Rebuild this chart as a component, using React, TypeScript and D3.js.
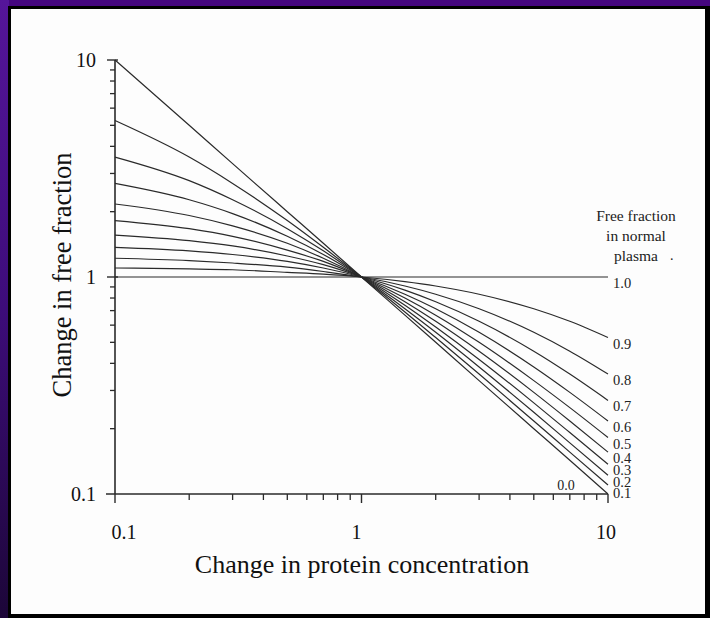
import React from "react";
import * as d3 from "d3";

// Change in protein concentration (x) sample points
const proteinChange: number[] = [0.1, 0.2, 0.3, 0.5, 0.7, 1, 1.5, 2, 3, 5, 7, 10];

// Free fraction in normal plasma (series keys)
const freeFractions: string[] = ["0.0", "0.1", "0.2", "0.3", "0.4", "0.5", "0.6", "0.7", "0.8", "0.9", "1.0"];

// Change in free fraction, one array per series
const ff00: number[] = [10, 5, 3.33, 2, 1.43, 1, 0.667, 0.5, 0.333, 0.2, 0.143, 0.1];
const ff01: number[] = [5.26, 3.57, 2.7, 1.82, 1.37, 1, 0.69, 0.526, 0.357, 0.217, 0.156, 0.11];
const ff02: number[] = [3.57, 2.78, 2.27, 1.67, 1.32, 1, 0.714, 0.556, 0.385, 0.238, 0.172, 0.122];
const ff03: number[] = [2.7, 2.27, 1.96, 1.54, 1.27, 1, 0.741, 0.588, 0.417, 0.263, 0.192, 0.137];
const ff04: number[] = [2.17, 1.92, 1.72, 1.43, 1.22, 1, 0.769, 0.625, 0.455, 0.294, 0.217, 0.156];
const ff05: number[] = [1.82, 1.67, 1.54, 1.33, 1.18, 1, 0.8, 0.667, 0.5, 0.333, 0.25, 0.182];
const ff06: number[] = [1.56, 1.47, 1.39, 1.25, 1.14, 1, 0.833, 0.714, 0.556, 0.385, 0.294, 0.217];
const ff07: number[] = [1.37, 1.32, 1.27, 1.18, 1.1, 1, 0.87, 0.769, 0.625, 0.455, 0.357, 0.27];
const ff08: number[] = [1.22, 1.19, 1.16, 1.11, 1.06, 1, 0.909, 0.833, 0.714, 0.556, 0.455, 0.357];
const ff09: number[] = [1.1, 1.09, 1.08, 1.05, 1.03, 1, 0.952, 0.909, 0.833, 0.714, 0.625, 0.526];
const ff10: number[] = [1, 1, 1, 1, 1, 1, 1, 1, 1, 1, 1, 1];

const seriesValues: number[][] = [ff00, ff01, ff02, ff03, ff04, ff05, ff06, ff07, ff08, ff09, ff10];

const xTickLabels: string[] = ["0.1", "1", "10"];
const yTickLabels: string[] = ["0.1", "1", "10"];
const xTitle = "Change in protein concentration";
const yTitle = "Change in free fraction";
const legendTitle: string[] = ["Free fraction", "in normal", "plasma"];

const W = 710;
const H = 618;
const FONT = "'Liberation Serif', 'Times New Roman', serif";
const INK = "#2a2a2a";

export default function App() {
  const x = d3.scaleLog().domain([0.1, 10]).range([115, 608]);
  const y = d3.scaleLog().domain([0.1, 10]).range([494, 60]);

  const line = d3
    .line<[number, number]>()
    .x((d) => x(d[0]))
    .y((d) => y(d[1]))
    .curve(d3.curveMonotoneX);

  const minorTicks: number[] = [];
  [0.1, 1].forEach((dec) => {
    for (let k = 2; k <= 9; k++) minorTicks.push(dec * k);
  });
  const majorTicks = [0.1, 1, 10];

  // label positions: endpoint + offset, spaced so they do not overlap
  const labels = freeFractions
    .map((f, i) => ({ f, i, yy: y(seriesValues[i][seriesValues[i].length - 1]) + 6 }))
    .filter((d) => d.f !== "0.0");
  const ordered = [...labels].sort((a, b) => a.yy - b.yy);
  for (let k = 1; k < ordered.length; k++) {
    if (ordered[k].yy < ordered[k - 1].yy + 11.5) ordered[k].yy = ordered[k - 1].yy + 11.5;
  }

  return (
    <svg
      width={W}
      height={H}
      style={{ position: "absolute", left: 0, top: 0, display: "block" }}
      fontFamily={FONT}
    >
      <defs>
        <linearGradient id="leftPurple" x1="0" y1="0" x2="0" y2="1">
          <stop offset="0" stopColor="#55159a" />
          <stop offset="0.5" stopColor="#3d0c7a" />
          <stop offset="1" stopColor="#1c0638" />
        </linearGradient>
      </defs>
      {/* frame */}
      <rect x={0} y={0} width={W} height={H} fill="#45067f" />
      <rect x={0} y={0} width={9} height={H} fill="url(#leftPurple)" />
      <rect x={8} y={6} width={W - 8} height={H - 6} fill="#000" />
      <rect x={11} y={9} width={W - 16} height={H - 13} fill="#fdfdfd" />

      {/* axes */}
      <line x1={115} x2={115} y1={y(10)} y2={y(0.1)} stroke={INK} strokeWidth={1.6} />
      <line x1={106} x2={x(10)} y1={y(0.1)} y2={y(0.1)} stroke={INK} strokeWidth={1.6} />

      {/* y ticks */}
      {minorTicks.map((t) => (
        <line key={"ym" + t} x1={110} x2={115} y1={y(t)} y2={y(t)} stroke={INK} strokeWidth={1.3} />
      ))}
      {majorTicks.slice(1).map((t) => (
        <line key={"yM" + t} x1={107} x2={118} y1={y(t)} y2={y(t)} stroke={INK} strokeWidth={1.4} />
      ))}
      {/* x ticks */}
      {minorTicks.map((t) => (
        <line key={"xm" + t} x1={x(t)} x2={x(t)} y1={y(0.1)} y2={y(0.1) + 6} stroke={INK} strokeWidth={1.3} />
      ))}
      {majorTicks.map((t) => (
        <line key={"xM" + t} x1={x(t)} x2={x(t)} y1={y(0.1)} y2={y(0.1) + 9} stroke={INK} strokeWidth={1.4} />
      ))}

      {/* tick labels */}
      {yTickLabels.map((s, i) => (
        <text key={"yl" + s} x={96} y={y(majorTicks[i]) + 7} textAnchor="end" fontSize={20} fill="#111">
          {s}
        </text>
      ))}
      {xTickLabels.map((s, i) => (
        <text
          key={"xl" + s}
          x={x(majorTicks[i]) + (i === 0 ? 9 : i === 1 ? -5 : -2)}
          y={539}
          textAnchor="middle"
          fontSize={20}
          fill="#111"
        >
          {s}
        </text>
      ))}

      {/* titles */}
      <text x={362} y={573} textAnchor="middle" fontSize={26} fill="#111">
        {xTitle}
      </text>
      <text
        transform={`translate(71, 275) rotate(-90)`}
        textAnchor="middle"
        fontSize={26.5}
        fill="#111"
      >
        {yTitle}
      </text>

      {/* curves */}
      {seriesValues.map((vals, i) => (
        <path
          key={"c" + i}
          d={line(proteinChange.map((p, j) => [p, vals[j]] as [number, number])) || ""}
          fill="none"
          stroke={INK}
          strokeWidth={1.2}
        />
      ))}

      {/* series labels */}
      {ordered.map((d) => (
        <text key={"sl" + d.f} x={613} y={d.yy + 5} fontSize={14.5} fill="#222">
          {d.f}
        </text>
      ))}
      <text x={566} y={490} textAnchor="middle" fontSize={14} fill="#222">
        {freeFractions[0]}
      </text>

      {/* legend title */}
      {legendTitle.map((s, i) => (
        <text key={"lt" + i} x={636} y={221 + i * 20} textAnchor="middle" fontSize={15.5} fill="#222">
          {s}
        </text>
      ))}
      <text x={670} y={260} fontSize={14} fill="#222">
        .
      </text>
    </svg>
  );
}
